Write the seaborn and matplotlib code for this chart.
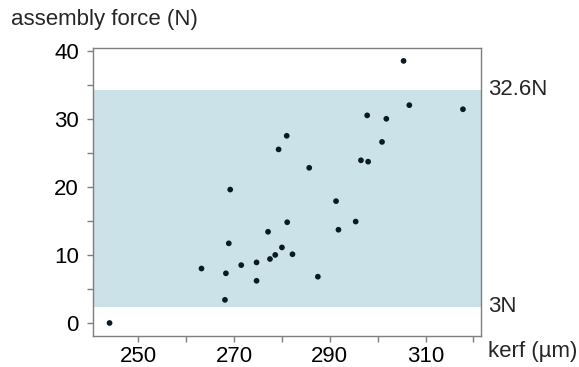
import matplotlib
matplotlib.use("Agg")
import numpy as np
import pandas as pd
import seaborn as sns
from matplotlib import pyplot as plt
import matplotlib.transforms as mtransforms

# kerf width (um) vs assembly force (N)
kerf = [244.0, 263.2, 268.1, 268.3, 268.9, 269.2, 271.5, 274.7, 274.7, 277.1,
        277.5, 278.6, 279.3, 280.0, 281.0, 281.1, 282.2, 285.7, 287.5, 291.3,
        291.8, 295.4, 296.5, 297.8, 298.0, 300.9, 301.8, 305.4, 306.6, 317.8]
force = [0.0, 8.0, 3.4, 7.3, 11.7, 19.6, 8.5, 8.9, 6.2, 13.4,
         9.4, 10.0, 25.5, 11.1, 27.5, 14.8, 10.1, 22.8, 6.8, 17.9,
         13.7, 14.9, 23.9, 30.5, 23.7, 26.6, 30.0, 38.5, 32.0, 31.4]

# shaded tolerance band (drawn position) and its labels
band_low = 2.35
band_high = 34.3
band_labels = ["3N", "32.6N"]

major_x = [250, 270, 290, 310]
minor_x = [260, 280, 300, 320]
major_y = [0, 10, 20, 30, 40]
minor_y = [5, 15, 25, 35]

df = pd.DataFrame({"kerf": kerf, "force": force})

sns.set_style("ticks")
plt.rcParams["font.family"] = ["Liberation Sans", "DejaVu Sans"]
fs = 16

fig = plt.figure(figsize=(5.79, 3.67), dpi=100)
ax = fig.add_axes([0.160, 0.0845, 0.671, 0.7855])

ax.axhspan(band_low, band_high, color="#cbe2e8", lw=0, zorder=0)
sns.scatterplot(data=df, x="kerf", y="force", ax=ax, color="#0b1a22",
                s=17, edgecolor="none", zorder=3)

ax.set_xlim(240.47, 321.6)
ax.set_ylim(-1.91, 40.44)
ax.set_xticks(major_x)
ax.set_xticks(minor_x, minor=True)
ax.set_yticks(major_y)
ax.set_yticks(minor_y, minor=True)
ax.set_xlabel("")
ax.set_ylabel("")

for s in ax.spines.values():
    s.set_color("#7f7f7f")
    s.set_linewidth(1.0)
ax.tick_params(which="both", direction="out", length=4, width=1,
               color="#7f7f7f", labelsize=fs, labelcolor="black")
ax.tick_params(axis="y", pad=6)
ax.tick_params(axis="x", pad=3)

trans = mtransforms.blended_transform_factory(ax.transAxes, ax.transData)
ax.text(1.018, band_high, band_labels[1], transform=trans, fontsize=fs,
        va="center", ha="left")
ax.text(1.018, band_low, band_labels[0], transform=trans, fontsize=fs,
        va="center", ha="left")
fig.text(488 / 579, 1 - 351 / 367, "kerf (µm)", fontsize=fs,
         va="center", ha="left")
fig.text(11 / 579, 1 - 19 / 367, "assembly force (N)", fontsize=fs,
         va="center", ha="left")

plt.savefig("out.png", dpi=100)
plt.close()
